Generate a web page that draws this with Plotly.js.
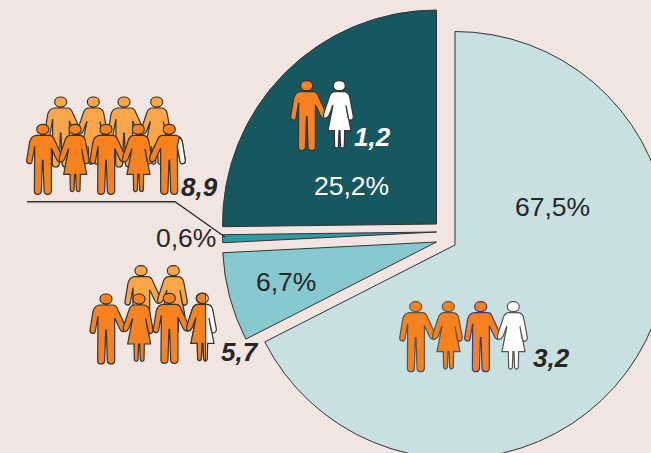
<!DOCTYPE html>
<html><head><meta charset="utf-8">
<script src="https://cdn.plot.ly/plotly-3.0.1.min.js"></script>
<style>html,body{margin:0;padding:0;background:#F0E5E1;overflow:hidden;width:651px;height:453px}</style>
</head><body><div id="chart"></div>
<script>
// Data
const sliceLabels = ['3,2', '5,7', '8,9', '1,2'];
const sliceValues = [67.5, 6.7, 0.6, 25.2];
const valueLabels = ['67,5%', '6,7%', '0,6%', '25,2%'];
// Styles and placement
const sliceColors = ['#C8E0E0', '#87C9CF', '#2E9AA5', '#175860'];
const apexX = [455, 436.5, 436.5, 436.5];
const apexY = [245, 242, 232, 224];
const radii = [213.5, 214, 214, 214];
const valueLabelX = [552.5, 285.5, 186, 351];
const valueLabelY = [207, 282, 238, 186];
const valueLabelColor = ['#262626', '#262626', '#262626', '#ffffff'];
const groupLabelX = [551, 239.5, 199, 372];
const groupLabelY = [358, 352, 187, 137];
const groupLabelColor = ['#262626', '#262626', '#262626', '#ffffff'];

const W = 700, H = 480;
const px = x => x / W, py = y => 1 - y / H;

let start = 0;
const traces = sliceValues.map((v, i) => {
  const t = {
    type: 'pie', sort: false, direction: 'clockwise', rotation: start,
    labels: [sliceLabels[i], 'rest' + i], values: [v, 100 - v],
    textinfo: 'none', hoverinfo: 'skip', showlegend: false,
    marker: {colors: [sliceColors[i], 'rgba(0,0,0,0)'], line: {color: ['#333333', 'rgba(0,0,0,0)'], width: [1, 0]}},
    domain: {x: [px(apexX[i] - radii[i]), px(apexX[i] + radii[i])], y: [py(apexY[i] + radii[i]), py(apexY[i] - radii[i])]}
  };
  start += v * 3.6;
  return t;
});

const MAN = {ox: 80, oy: 47, d: 'M 60 65 L 100 65 C 108 65 113 71 116 80 L 138 128 Q 141 138 136 143 Q 128 148 122 138 L 106 104 L 106 232 Q 105 242 95 242 Q 85 242 84 232 L 81 140 L 79 140 L 76 232 Q 75 242 65 242 Q 55 242 55 232 L 56 98 L 48 143 Q 47 151 39 150 Q 31 148 32 140 L 41 84 Q 46 67 60 65 Z M 62 47 C 62 27 98 27 98 47 C 98 67 62 67 62 47 Z'};
const WOMAN = {ox: 178, oy: 47, d: 'M 163 65 L 193 65 Q 206 67 209 80 L 220 138 Q 221 149 212 151 Q 205 149 204 142 L 198 106 L 213 182 L 194 182 L 193 230 Q 187 238 182 230 L 180 182 L 177 182 L 175 230 Q 170 238 164 230 L 163 182 L 144 182 L 159 105 L 147 136 Q 140 148 132 144 Q 129 135 133 125 L 148 80 Q 152 67 163 65 Z M 160 47 C 160 27 196 27 196 47 C 196 67 160 67 160 47 Z'};
const HALF = {ox: 178, oy: 47, d: 'M 163 65 L 188 65 L 188 236 Q 184 236 182 230 L 180 182 L 177 182 L 175 230 Q 170 238 164 230 L 163 182 L 144 182 L 159 105 L 147 136 Q 140 148 132 144 Q 129 135 133 125 L 148 80 Q 152 67 163 65 Z M 188 33 C 174 28 160 36 160 47 C 160 58 174 66 188 61 Z'};
const ARM = {ox: 80, oy: 47, d: 'M 50 72 L 56 98 L 48 143 Q 47 151 39 150 Q 31 148 32 140 L 41 84 Q 45 72 50 72 Z'};

function figure(k, x, y, fill, line, mirror) {
  const d = k.d.replace(/(-?[\d.]+) (-?[\d.]+)/g, (m, a, b) => {
    const dx = (a - k.ox) / 3 * (mirror ? -1 : 1), dy = (b - k.oy) / 3;
    return px(x + dx).toFixed(5) + ',' + py(y + dy).toFixed(5);
  });
  return {type: 'path', xref: 'paper', yref: 'paper', path: d, fillcolor: fill, line: {color: line, width: 1.2}, layer: 'above'};
}

const O = '#F7821E', L = '#FBA648', K = '#333333', WH = '#ffffff';
const shapes = [
  // Group 1,2
  figure(MAN, 306.7, 85.7, O, K), figure(WOMAN, 339.3, 85.7, WH, K),
  // Group 3,2
  figure(MAN, 415.7, 306.7, O, '#555555'), figure(WOMAN, 448.3, 306.7, O, '#555555'),
  figure(MAN, 480.7, 306.7, O, '#3A3A8C'), figure(WOMAN, 513.3, 306.7, WH, '#555555'),
  // Group 5,7
  figure(MAN, 141, 270.7, L, K), figure(WOMAN, 173.3, 270.7, L, K),
  figure(MAN, 106, 299, O, K), figure(WOMAN, 139, 299, O, K),
  figure(MAN, 169.3, 298.3, O, K), figure(WOMAN, 202.3, 298.3, WH, K), figure(HALF, 202.3, 298.3, O, K),
  // Group 8,9
  figure(MAN, 60.7, 102, L, K), figure(WOMAN, 93.3, 102, L, K), figure(MAN, 124, 102, L, K), figure(WOMAN, 156.7, 102, L, K),
  figure(MAN, 42.7, 129.3, O, K), figure(WOMAN, 75, 129.3, O, K), figure(MAN, 106, 129.3, O, K), figure(WOMAN, 138.3, 129.3, O, K),
  figure(MAN, 169.3, 129.3, O, K, true), figure(ARM, 169.3, 129.3, WH, K, true),
  // Leader line and its soft shadow
  {type: 'path', xref: 'paper', yref: 'paper', layer: 'above', line: {color: '#B5A9A6', width: 1},
   path: 'M ' + px(27) + ',' + py(202.8) + ' L ' + px(175) + ',' + py(202.8)},
  {type: 'path', xref: 'paper', yref: 'paper', layer: 'above', line: {color: '#262626', width: 1.2},
   path: 'M ' + px(27) + ',' + py(201.7) + ' L ' + px(175) + ',' + py(201.7) + ' L ' + px(225) + ',' + py(237)}
];

const ann = (t, x, y, c, bold) => ({
  text: bold ? '<b><i>' + t + '</i></b>' : t, xref: 'paper', yref: 'paper', x: px(x), y: py(y),
  xanchor: 'center', yanchor: 'middle', showarrow: false,
  font: {family: '"Liberation Sans", Arial, sans-serif', size: bold ? 26 : 26.5, color: c}
});
const annotations = valueLabels.map((t, i) => ann(t, valueLabelX[i], valueLabelY[i], valueLabelColor[i], false))
  .concat(sliceLabels.map((t, i) => ann(t, groupLabelX[i], groupLabelY[i], groupLabelColor[i], true)));

Plotly.newPlot('chart', traces, {
  width: W, height: H, margin: {l: 0, r: 0, t: 0, b: 0, pad: 0},
  paper_bgcolor: '#F0E5E1', plot_bgcolor: '#F0E5E1', showlegend: false,
  shapes: shapes, annotations: annotations
}, {staticPlot: true, displayModeBar: false});
</script></body></html>
